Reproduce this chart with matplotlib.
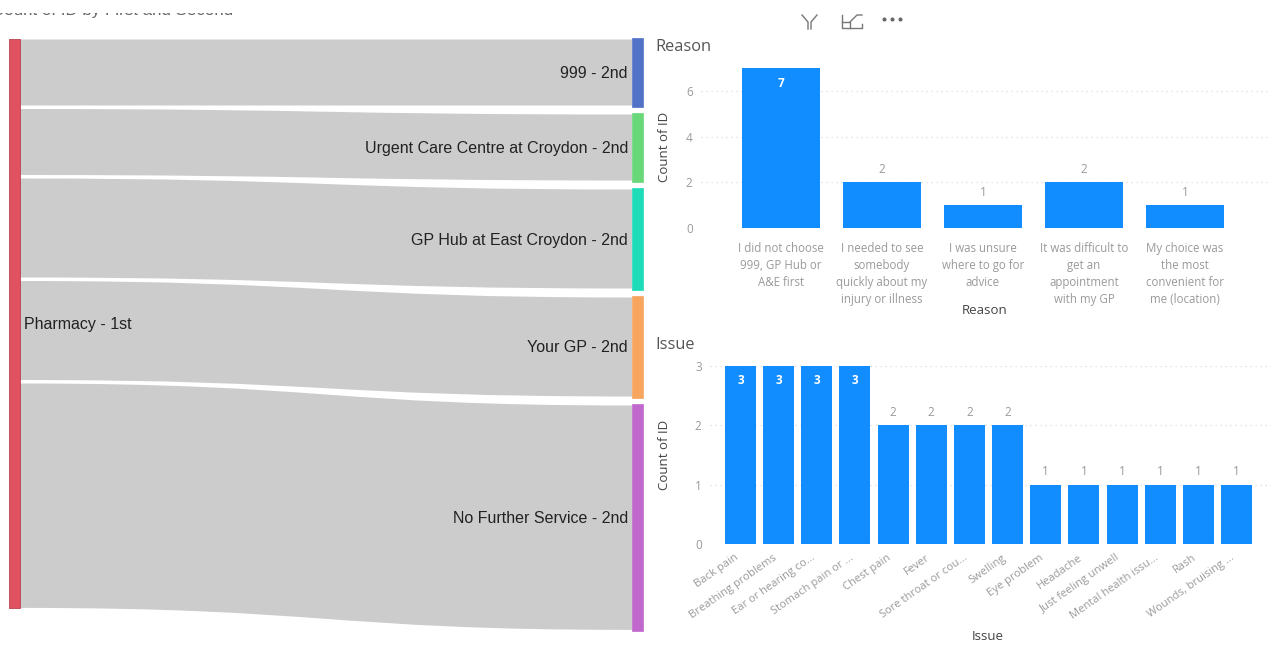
import matplotlib
matplotlib.use("Agg")
import matplotlib.pyplot as plt
from matplotlib.patches import PathPatch, Rectangle
from matplotlib.path import Path
from matplotlib.transforms import ScaledTranslation

W, H = 1274, 646

# sankey
source = "Pharmacy - 1st"
targets = ["999 - 2nd", "Urgent Care Centre at Croydon - 2nd", "GP Hub at East Croydon - 2nd",
           "Your GP - 2nd", "No Further Service - 2nd"]
flows = [2, 2, 3, 3, 6.8]
node_colors = ["#5272c8", "#68d878", "#1fdcb9", "#f7a55f", "#c068cc"]

# bar charts
reasons = ["I did not choose\n999, GP Hub or\nA&E first",
           "I needed to see\nsomebody\nquickly about my\ninjury or illness",
           "I was unsure\nwhere to go for\nadvice",
           "It was difficult to\nget an\nappointment\nwith my GP",
           "My choice was\nthe most\nconvenient for\nme (location)"]
reason_counts = [7, 2, 1, 2, 1]
issues = ["Back pain", "Breathing problems", "Ear or hearing co...", "Stomach pain or ...",
          "Chest pain", "Fever", "Sore throat or cou...", "Swelling", "Eye problem", "Headache",
          "Just feeling unwell", "Mental health issu...", "Rash", "Wounds, bruising ..."]
issue_counts = [3, 3, 3, 3, 2, 2, 2, 2, 1, 1, 1, 1, 1, 1]

BLUE = "#118dff"
GREY = "#9a9a9a"
DARK = "#444444"
SEGOE = ["Open Sans", "DejaVu Sans"]
ARIAL = ["Liberation Sans", "DejaVu Sans"]


def px_axes(fig, left, top, right, bottom):
    return fig.add_axes([left / W, 1 - bottom / H, (right - left) / W, (bottom - top) / H])


def bars(fig, canvas, box, names, counts, first_x, pitch, width, yticks, rot, title, title_xy,
         xlabel_xy, ylabel_xy, tick_size):
    left, top, right, bottom = box
    ax = px_axes(fig, *box)
    xs = list(range(len(counts)))
    ax.bar(xs, counts, width=width / pitch, color=BLUE, zorder=3)
    ax.set_xlim((left - first_x) / pitch, (right - first_x) / pitch)
    ax.set_ylim(0, max(counts))
    for s in ax.spines.values():
        s.set_visible(False)
    ax.set_yticks(yticks)
    ax.grid(axis="y", color="#dcdcdc", linestyle=(0, (1, 3)), linewidth=0.9, zorder=0)
    ax.tick_params(axis="both", length=0)
    ax.tick_params(axis="y", pad=6, labelcolor=GREY, labelsize=8.5)
    ax.set_xticks(xs)
    if rot:
        ax.set_xticklabels(names, rotation=rot, ha="right", rotation_mode="anchor",
                           color=GREY, fontsize=tick_size)
        ax.tick_params(axis="x", pad=6)
        # labels end a little left of the bar centre
        shift = ScaledTranslation(-6 / 100, 0, fig.dpi_scale_trans)
        for lab in ax.get_xticklabels():
            lab.set_transform(lab.get_transform() + shift)
    else:
        ax.set_xticklabels(names, color=GREY, fontsize=tick_size, linespacing=1.42, va="top")
        ax.tick_params(axis="x", pad=10)
    for x, c in zip(xs, counts):
        if c == max(counts):
            ax.annotate(str(c), (x, c), xytext=(0, -15), textcoords="offset pixels", ha="center",
                        va="center", color="white", fontsize=8.5, fontweight="bold", zorder=4)
        else:
            ax.annotate(str(c), (x, c), xytext=(0, 13), textcoords="offset pixels", ha="center",
                        va="center", color=GREY, fontsize=8.5, zorder=4)
    ax.set_xlabel(title, color=DARK, fontsize=9.5)
    ax.xaxis.set_label_coords(*xlabel_xy, transform=canvas.transData)
    ax.xaxis.label.set_verticalalignment("center")
    ax.set_ylabel("Count of ID", color=DARK, fontsize=9.5)
    ax.yaxis.set_label_coords(*ylabel_xy, transform=canvas.transData)
    ax.yaxis.label.set_verticalalignment("center")
    canvas.text(*title_xy, title, color="#555555", fontsize=11.8, va="center", ha="left")


def link(ax, x0, x1, y0a, y0b, y1a, y1b):
    mid = (x0 + x1) / 2
    verts = [(x0, y0a), (mid, y0a), (mid, y1a), (x1, y1a), (x1, y1b), (mid, y1b), (mid, y0b),
             (x0, y0b), (x0, y0a)]
    codes = [Path.MOVETO, Path.CURVE4, Path.CURVE4, Path.CURVE4, Path.LINETO, Path.CURVE4,
             Path.CURVE4, Path.CURVE4, Path.CLOSEPOLY]
    ax.add_patch(PathPatch(Path(verts, codes), facecolor="#cccccc", edgecolor="none"))


if __name__ == '__main__':
    plt.rcParams['font.family'] = SEGOE
    fig = plt.figure(figsize=(W / 100, H / 100), dpi=100)
    canvas = fig.add_axes([0, 0, 1, 1])
    canvas.set_xlim(0, W)
    canvas.set_ylim(H, 0)
    canvas.axis("off")

    # sankey, drawn on pixel scale
    per_unit = 33
    left_gap, right_gap = 3.5, 9
    y_left = y_right = 39.5
    x_a, x_b = 20, 632
    node_w = 10.5
    for name, v, col in zip(targets, flows, node_colors):
        h = v * per_unit
        link(canvas, x_a, x_b, y_left, y_left + h, y_right, y_right + h)
        canvas.add_patch(Rectangle((x_b, y_right - 1.5), node_w, h + 3, facecolor=col,
                                   edgecolor=col, linewidth=0.5))
        canvas.text(x_b - 4, y_right + h / 2 + 1, name, ha="right", va="center", color="#222222",
                    fontsize=11.5, family=ARIAL)
        y_left += h + left_gap
        y_right += h + right_gap
    y_end = y_left - left_gap
    canvas.add_patch(Rectangle((9, 38.5), x_a - 9, y_end - 38.5 + 0.5, facecolor="#e0525f",
                               edgecolor="#b8434f", linewidth=0.6))
    canvas.text(24, (39 + y_end) / 2 + 1, source, ha="left", va="center", color="#222222",
                fontsize=11.5, family=ARIAL)

    # cut off visual title
    canvas.text(233, 11, "Count of ID by First and Second", ha="right", va="center",
                color="#666666", fontsize=12.2, family=ARIAL)
    canvas.add_patch(Rectangle((0, 0), 300, 13, facecolor="white", edgecolor="none", zorder=5))

    # header icons
    canvas.plot([802, 808, 808], [15, 22, 29], color="#777777", lw=1)
    canvas.plot([817, 811, 811], [15, 22, 29], color="#777777", lw=1)
    canvas.plot([842, 842, 862, 862], [15, 28, 28, 24], color="#777777", lw=1)
    canvas.plot([842, 850, 850], [22, 22, 28], color="#777777", lw=1)
    canvas.plot([850, 857, 862], [22, 15, 15], color="#777777", lw=1)
    canvas.plot([884, 892, 900], [19, 19, 19], linestyle="none", marker="o", markersize=1.9,
                color="#666666")

    bars(fig, canvas, (701, 68, 1270, 228), reasons, reason_counts, 781, 101, 78, [0, 2, 4, 6], 0,
         "Reason", (655, 47), (985, 310), (664, 147), 8.3)
    bars(fig, canvas, (710, 366, 1271, 544), issues, issue_counts, 740.5, 38.15, 31, [0, 1, 2, 3], 35,
         "Issue", (655, 345), (988, 636), (664, 455), 8)

    fig.savefig("out.png", dpi=100)
